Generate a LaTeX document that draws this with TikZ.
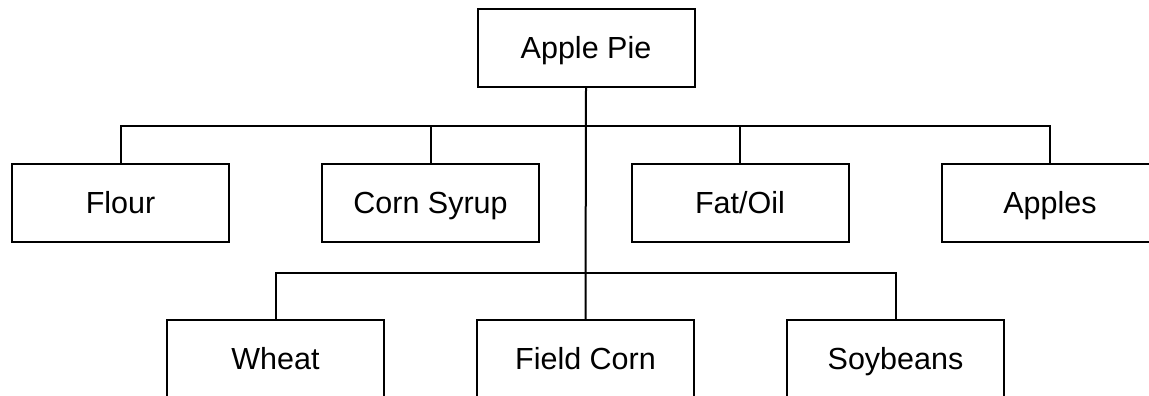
\documentclass[tikz,border=0pt]{standalone}
\usepackage{fontspec}
\setmainfont{Liberation Sans}
\begin{document}
\begin{tikzpicture}[x=1pt,y=-1pt,
  box/.style={draw=black,line width=2pt,minimum width=217pt,minimum height=78pt,inner sep=0pt,
    text height=21.5pt,text depth=0pt,
    font=\fontsize{30.5}{36}\selectfont,fill=white},
  link/.style={draw=black,line width=2pt}]
\useasboundingbox (0,0) rectangle (1149,396);
\clip (0,0) rectangle (1149,396);
\node[box] (pie) at (586,48) {Apple Pie};
\node[box] (flour) at (120.5,203) {Flour};
\node[box] (syrup) at (430.5,203) {Corn Syrup};
\node[box] (fat) at (740,203) {Fat/Oil};
\node[box] (apples) at (1050,203) {Apples};
\node[box] (wheat) at (275.5,359) {Wheat};
\node[box] (corn) at (585.5,359) {Field Corn};
\node[box] (soy) at (895.5,359) {Soybeans};
\coordinate (busA) at (0,126);
\coordinate (busB) at (0,273);
\draw[link] (pie.south) -- (corn.north);
\draw[link] (flour.north) |- (busA -| apples.north) -- (apples.north);
\draw[link] (syrup.north) -- (syrup.north |- busA);
\draw[link] (fat.north) -- (fat.north |- busA);
\draw[link] (wheat.north) |- (busB -| soy.north) -- (soy.north);
\end{tikzpicture}
\end{document}
